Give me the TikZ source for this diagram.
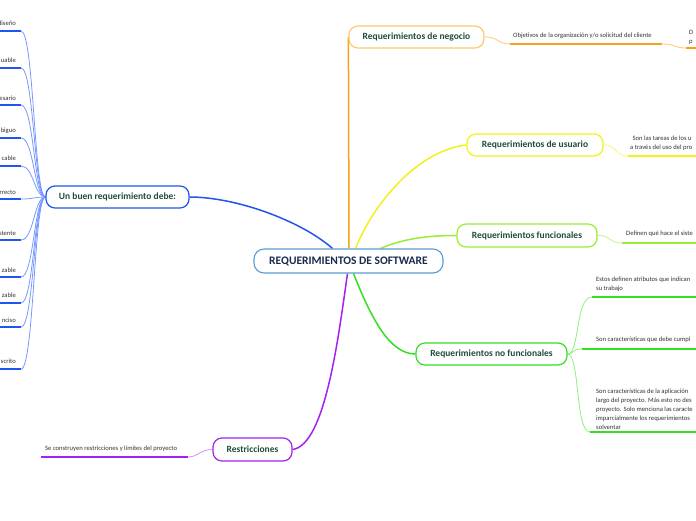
\documentclass[tikz,border=0pt]{standalone}
\usepackage{fontspec}
\setmainfont{Carlito}
\definecolor{ntext}{HTML}{1E4D3B}
\definecolor{ctext}{HTML}{1A2B4C}
\definecolor{cborder}{HTML}{5B9BD5}
\definecolor{corange}{HTML}{F7A21B}
\definecolor{corangel}{HTML}{FFC870}
\definecolor{cyellow}{HTML}{F2F21A}
\definecolor{cyellowl}{HTML}{F8F880}
\definecolor{clime}{HTML}{99EE33}
\definecolor{climel}{HTML}{C4F590}
\definecolor{cgreen}{HTML}{33E022}
\definecolor{cgreenl}{HTML}{90F080}
\definecolor{cpurple}{HTML}{A322F0}
\definecolor{cpurplel}{HTML}{D090F8}
\definecolor{cblue}{HTML}{2255EE}
\definecolor{cbluel}{HTML}{7799FF}
\definecolor{stext}{HTML}{333333}
\pgfdeclarelayer{back}
\pgfdeclarelayer{bg}
\pgfsetlayers{back,bg,main}
\tikzset{
  topic/.style={draw, rounded corners=9pt, fill=white, line width=1.2pt,
    font=\bfseries\fontsize{9.5}{11}\selectfont, text=ntext, inner sep=0pt},
  central/.style={draw=cborder, rounded corners=10pt, fill=white, line width=1.1pt,
    font=\bfseries\fontsize{11.5}{13}\selectfont, text=ctext, inner sep=0pt,
    minimum width=189pt, minimum height=24pt},
  small/.style={font=\fontsize{6.6}{9}\selectfont, text=stext, inner sep=0pt, align=left},
  mainline/.style={line width=1.5pt},
  uline/.style={line width=1.6pt},
  cline/.style={line width=0.8pt},
}
\begin{document}
\begin{tikzpicture}[x=1pt,y=-1pt]
\begin{pgfonlayer}{back}
\fill[white] (0,0) rectangle (696,520);
\end{pgfonlayer}
\useasboundingbox (0,0) rectangle (696,520);
% main nodes
\node[central] (c) at (348.5,261) {REQUERIMIENTOS DE SOFTWARE};
\node[topic, draw=corangel, minimum width=135pt, minimum height=22pt] (neg) at (416.5,37) {Requerimientos de negocio};
\node[topic, draw=cyellow, minimum width=136pt, minimum height=22pt] (usu) at (535,145) {Requerimientos de usuario};
\node[topic, draw=clime, minimum width=140pt, minimum height=23pt] (fun) at (527,235.5) {Requerimientos funcionales};
\node[topic, draw=cgreen, minimum width=151pt, minimum height=22pt] (nof) at (491.5,354) {Requerimientos no funcionales};
\node[topic, draw=cpurple, minimum width=79pt, minimum height=23pt] (res) at (252.5,449.5) {Restricciones};
\node[topic, draw=cblue, minimum width=143pt, minimum height=22pt] (buen) at (117.5,197) {Un buen requerimiento debe:};

% coordinates for child ends
\coordinate (negA) at (510,44); \coordinate (negB) at (662,44);
\coordinate (negC) at (686,48); \coordinate (negD) at (696,48);
\coordinate (usuA) at (628,156); \coordinate (usuB) at (696,156);
\coordinate (funA) at (622,243); \coordinate (funB) at (696,243);
\coordinate (nofA) at (592,297); \coordinate (nofB) at (696,297);
\coordinate (nofC) at (582,349); \coordinate (nofD) at (696,349);
\coordinate (nofE) at (590,432); \coordinate (nofF) at (696,432);
\coordinate (resA) at (188,457); \coordinate (resB) at (41,457);

\begin{pgfonlayer}{bg}
% main connectors
\draw[mainline, corange] ([xshift=0.5pt]c.north) -- (neg.west);
\draw[mainline, cyellow] ([xshift=7pt]c.north) .. controls (375,200) and (420,150) .. (usu.west);
\draw[mainline, clime] ([xshift=32pt]c.north) .. controls (405,238) and (430,235.5) .. (fun.west);
\draw[mainline, cgreen] ([xshift=5pt]c.south) .. controls (372,320) and (390,354) .. (nof.west);
\draw[mainline, cpurple] ([xshift=-1pt]c.south) .. controls (338,340) and (325,445) .. (res.east);
\draw[mainline, cblue] (buen.east) .. controls (235,197) and (300,220) .. ([xshift=-16pt]c.north);

% right children
\draw[cline, corangel] (neg.east) .. controls (500,37) and (496,44) .. (negA);
\draw[uline, corange] (negA) -- (negB);
\draw[cline, corangel] (negB) .. controls (676,44) and (674,48) .. (negC);
\draw[uline, corange] (negC) -- (negD);
\draw[cline, cyellowl] (usu.east) .. controls (618,145) and (614,156) .. (usuA);
\draw[uline, cyellow] (usuA) -- (usuB);
\draw[cline, climel] (fun.east) .. controls (612,235.5) and (608,243) .. (funA);
\draw[uline, clime] (funA) -- (funB);
\draw[cline, cgreenl] (nof.east) .. controls (580,354) and (575,297) .. (nofA);
\draw[uline, cgreen] (nofA) -- (nofB);
\draw[cline, cgreenl] (nof.east) .. controls (574,354) and (572,349) .. (nofC);
\draw[uline, cgreen] (nofC) -- (nofD);
\draw[cline, cgreenl] (nof.east) .. controls (580,354) and (575,432) .. (nofE);
\draw[uline, cgreen] (nofE) -- (nofF);
\draw[cline, cpurplel] (res.west) .. controls (200,449.5) and (198,457) .. (resA);
\draw[uline, cpurple] (resA) -- (resB);

% left children
\foreach \yy [count=\i] in {31,68,105,138,166,199,240,277,303,327,369}{
  \coordinate (L\i) at (21,\yy);
  \coordinate (L\i e) at (0,\yy);
  \draw[cline, cbluel] (buen.west) .. controls (34,197) and (34,\yy) .. (L\i);
  \draw[uline, cblue] (L\i) -- (L\i e);
}
\end{pgfonlayer}

% child texts
\node[small, anchor=west] (t1) at (513,36) {Objetivos de la organización y/o solicitud del cliente};
\node[small, anchor=west] (t2) at (689,37) {D\\p};
\node[small, anchor=west] (t3) at (630,143.5) {\hspace*{2.5pt}Son las tareas de los u\\a través del uso del pro};
\node[small, anchor=west] (t4) at (626,234) {Definen qué hace el siste};
\node[small, anchor=west] (t5) at (596,284.5) {Estos definen atributos que indican\\su trabajo};
\node[small, anchor=west] (t6) at (596,340) {Son características que debe cumpl};
\node[small, anchor=west] (t7) at (596,409) {Son características de la aplicación\\largo del proyecto. Más esto no des\\proyecto. Solo menciona las caracte\\imparcialmente los requerimientos\\solventar};
\node[small, anchor=west] (t8) at (45,449) {Se construyen restricciones y límites del proyecto};

\foreach \yy/\txt in {23/diseño,60/uable,98/esario,131/biguo,158/cable,192/rrecto,233/istente,270/zable,295/zable,320/nciso,361/scrito}{
  \node[small, anchor=east] at (16,\yy) {\txt};
}
\end{tikzpicture}
\end{document}
